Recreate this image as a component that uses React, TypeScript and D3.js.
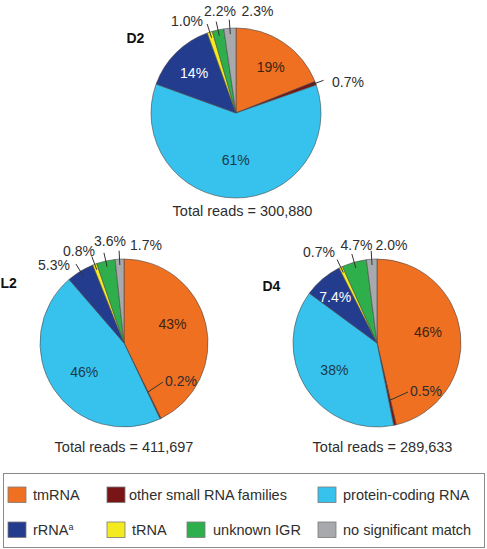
import React from 'react';
import * as d3 from 'd3';

// ---------- data ----------
const categories = [
  'tmRNA',
  'other small RNA families',
  'protein-coding RNA',
  'rRNA',
  'tRNA',
  'unknown IGR',
  'no significant match',
];
const d2Values = [19, 0.7, 61, 14, 1.0, 2.2, 2.3];
const l2Values = [43, 0.2, 46, 5.3, 0.8, 3.6, 1.7];
const d4Values = [46, 0.5, 38, 7.4, 0.7, 4.7, 2.0];
const pieNames = ['D2', 'L2', 'D4'];
const totalReads = [300880, 411697, 289633];

// ---------- styles ----------
const colors = ['#F07022', '#7A1517', '#37C2EE', '#243C8E', '#F3EA1F', '#2EAF4B', '#A8A9AC'];
const FONT = '"Liberation Sans", Arial, Helvetica, sans-serif';
const DARK = '#2e2e2e';

type LabelCfg =
  | { kind: 'in'; rf: number; da: number; fill: string }
  | { kind: 'out'; dx: number; dy: number; anchor: string }
  | { kind: 'inLeader'; rf: number; dx: number; dy: number; anchor: string };

const pieLayouts: {
  cx: number; cy: number; r: number;
  title: [number, number]; total: [number, number];
  labels: LabelCfg[];
}[] = [
  {
    cx: 236, cy: 113, r: 85, title: [126.5, 43], total: [242.5, 216],
    labels: [
      { kind: 'in', rf: 0.68, da: 2.8, fill: '#3a2412' },
      { kind: 'out', dx: 96, dy: -26, anchor: 'start' },
      { kind: 'in', rf: 0.56, da: 0, fill: '#1c3a4a' },
      { kind: 'in', rf: 0.68, da: -1.6, fill: '#ffffff' },
      { kind: 'out', dx: -33, dy: -87, anchor: 'end' },
      { kind: 'out', dx: -16, dy: -97, anchor: 'middle' },
      { kind: 'out', dx: 21.5, dy: -97, anchor: 'middle' },
    ],
  },
  {
    cx: 124, cy: 343, r: 84, title: [0.5, 288], total: [124, 452],
    labels: [
      { kind: 'in', rf: 0.62, da: -8.4, fill: '#3a2412' },
      { kind: 'inLeader', rf: 0.65, dx: 41, dy: 43, anchor: 'start' },
      { kind: 'in', rf: 0.59, da: -3.4, fill: '#1c3a4a' },
      { kind: 'out', dx: -54, dy: -73, anchor: 'end' },
      { kind: 'out', dx: -29, dy: -87, anchor: 'end' },
      { kind: 'out', dx: -14, dy: -97, anchor: 'middle' },
      { kind: 'out', dx: 6, dy: -93, anchor: 'start' },
    ],
  },
  {
    cx: 377, cy: 343, r: 84, title: [262.5, 291], total: [382.5, 452],
    labels: [
      { kind: 'in', rf: 0.62, da: -5, fill: '#3a2412' },
      { kind: 'inLeader', rf: 0.7, dx: 33, dy: 53, anchor: 'start' },
      { kind: 'in', rf: 0.6, da: 0.3, fill: '#1c3a4a' },
      { kind: 'in', rf: 0.74, da: -2, fill: '#ffffff' },
      { kind: 'out', dx: -42, dy: -86.5, anchor: 'end' },
      { kind: 'out', dx: -20.5, dy: -93, anchor: 'middle' },
      { kind: 'out', dx: 14.5, dy: -93, anchor: 'middle' },
    ],
  },
];

const legendLayout = [
  { sx: 8, tx: 33, sy: 487 },
  { sx: 107, tx: 129, sy: 487 },
  { sx: 318, tx: 343, sy: 487 },
  { sx: 8, tx: 33, sy: 522 },
  { sx: 107, tx: 132, sy: 522 },
  { sx: 187, tx: 213, sy: 522 },
  { sx: 318, tx: 343, sy: 522 },
];

const fmtPct = (v: number) => (v >= 10 ? d3.format('.0f')(v) : d3.format('.1f')(v)) + '%';
const fmtTotal = d3.format(',');

function polar(angle: number, radius: number): [number, number] {
  return [Math.sin(angle) * radius, -Math.cos(angle) * radius];
}

function Pie({ values, idx }: { values: number[]; idx: number }) {
  const L = pieLayouts[idx];
  const pie = d3.pie<number>().sort(null).startAngle(0).endAngle(2 * Math.PI);
  const arcs = pie(values);
  const arc = d3.arc<d3.PieArcDatum<number>>().innerRadius(0).outerRadius(L.r);
  return (
    <g>
      <g transform={`translate(${L.cx},${L.cy})`}>
        {arcs.map((a, i) => (
          <path key={i} d={arc(a) || ''} fill={colors[i]} stroke="#4a4a4a" strokeWidth={0.6} strokeLinejoin="round" />
        ))}
        {arcs.map((a, i) => {
          const cfg = L.labels[i];
          const mid = (a.startAngle + a.endAngle) / 2;
          const text = fmtPct(values[i]);
          if (cfg.kind === 'in') {
            const [x, y] = polar(mid + (cfg.da * Math.PI) / 180, L.r * cfg.rf);
            return (
              <text key={'t' + i} x={x} y={y} dy="0.35em" textAnchor="middle" fontSize={14} fill={cfg.fill} fontFamily={FONT}>
                {text}
              </text>
            );
          }
          if (cfg.kind === 'out') {
            const [x1, y1] = polar(mid, L.r * 0.93);
            const [x2, y2] = polar(mid, L.r * 1.1);
            return (
              <g key={'t' + i}>
                <line x1={x1} y1={y1} x2={x2} y2={y2} stroke="#333" strokeWidth={1} />
                <text x={cfg.dx} y={cfg.dy} textAnchor={cfg.anchor} fontSize={14} fill={DARK} fontFamily={FONT}>
                  {text}
                </text>
              </g>
            );
          }
          const [x1, y1] = polar(mid, L.r * cfg.rf);
          return (
            <g key={'t' + i}>
              <line x1={x1} y1={y1} x2={cfg.dx - 2} y2={cfg.dy - 4} stroke="#333" strokeWidth={1} />
              <text x={cfg.dx} y={cfg.dy} textAnchor={cfg.anchor} fontSize={14} fill={DARK} fontFamily={FONT}>
                {text}
              </text>
            </g>
          );
        })}
      </g>
      <text x={L.title[0]} y={L.title[1]} fontSize={14} fontWeight="bold" fill="#111" fontFamily={FONT}>
        {pieNames[idx]}
      </text>
      <text x={L.total[0]} y={L.total[1]} textAnchor="middle" fontSize={14.5} fill={DARK} fontFamily={FONT}>
        {`Total reads = ${fmtTotal(totalReads[idx])}`}
      </text>
    </g>
  );
}

export default function App() {
  const allValues = [d2Values, l2Values, d4Values];
  return (
    <svg
      width={487}
      height={549}
      viewBox="0 0 487 549"
      style={{ position: 'absolute', left: 0, top: 0, background: '#fff' }}
    >
      <rect x={0} y={0} width={487} height={549} fill="#fff" />
      {allValues.map((v, i) => (
        <Pie key={i} values={v} idx={i} />
      ))}
      <rect x={3.5} y={473.5} width={481} height={74} fill="#fff" stroke="#8a8a8a" strokeWidth={1} />
      {categories.map((c, i) => {
        const g = legendLayout[i];
        return (
          <g key={c}>
            <rect x={g.sx} y={g.sy} width={18} height={15.5} fill={colors[i]} stroke="#7a7a7a" strokeWidth={0.8} />
            <text x={g.tx} y={g.sy + 12.5} fontSize={14.5} fill={DARK} fontFamily={FONT}>
              {c}
              {c === 'rRNA' ? (
                <tspan fontSize={9} dy={-5}>a</tspan>
              ) : null}
            </text>
          </g>
        );
      })}
    </svg>
  );
}
